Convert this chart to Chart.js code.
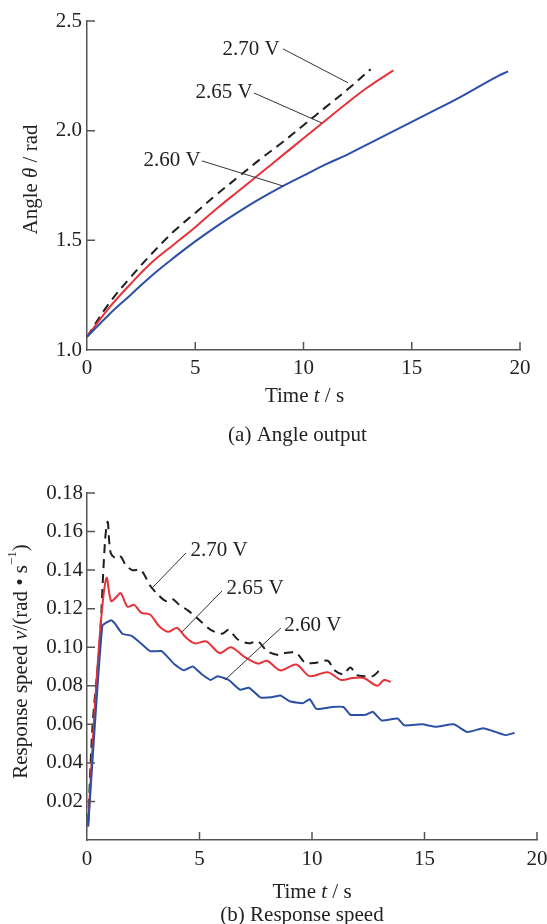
<!DOCTYPE html>
<html>
<head>
<meta charset="utf-8">
<script src="https://cdn.jsdelivr.net/npm/chart.js@4.4.1/dist/chart.umd.min.js"></script>
<style>
  html, body { margin: 0; padding: 0; background: #ffffff; overflow: hidden; }
  #wrapA { position: absolute; left: 0; top: 0; }
  #wrapB { position: absolute; left: 0; top: 455px; }
</style>
</head>
<body>
<div id="wrapA"><canvas id="chartA" width="547" height="455"></canvas></div>
<div id="wrapB"><canvas id="chartB" width="547" height="469"></canvas></div>
<script>
// ---------- (a) Angle output data ----------
const angleTicksX = [0, 5, 10, 15, 20];
const angleTicksY = [1.0, 1.5, 2.0, 2.5];

const angleT260 = [0, 1, 2, 3, 4, 5, 6, 7, 8, 9, 10, 11, 12, 13, 14, 15, 16, 17, 18, 19, 19.45];
const angle260  = [1.06, 1.16, 1.25, 1.34, 1.42, 1.495, 1.565, 1.63, 1.69, 1.745, 1.795, 1.845, 1.89, 1.94, 1.99, 2.04, 2.09, 2.14, 2.195, 2.25, 2.27];

const angleT265 = [0, 1, 2, 3, 4, 5, 6, 7, 8, 9, 10, 11, 12, 13, 14.15];
const angle265  = [1.06, 1.19, 1.30, 1.40, 1.48, 1.56, 1.645, 1.725, 1.805, 1.885, 1.965, 2.045, 2.125, 2.20, 2.275];

const angleT270 = [0, 1, 2, 3, 4, 5, 6, 7, 8, 9, 10, 11, 12, 13.1];
const angle270  = [1.06, 1.21, 1.33, 1.44, 1.54, 1.625, 1.71, 1.79, 1.87, 1.945, 2.025, 2.105, 2.185, 2.28];

// ---------- (b) Response speed data ----------
const speedTicksX = [0, 5, 10, 15, 20];
const speedTicksY = [0.02, 0.04, 0.06, 0.08, 0.10, 0.12, 0.14, 0.16, 0.18];

const speedT270 = [0.05, 0.25, 0.55, 0.8, 0.92, 1.05, 1.3, 1.5, 1.7, 2.0, 2.4, 2.8, 3.1, 3.5, 3.8, 4.1, 4.5, 5.0, 5.5, 6.0, 6.3, 6.7, 7.2, 7.6, 8.0, 8.5, 8.8, 9.3, 9.7, 10.2, 10.7, 11.0, 11.4, 11.7, 12.0, 12.3, 12.7, 13.0];
const speed270  = [0.009, 0.06, 0.10, 0.155, 0.165, 0.149, 0.146, 0.147, 0.143, 0.140, 0.140, 0.132, 0.128, 0.124, 0.125, 0.122, 0.119, 0.114, 0.109, 0.107, 0.109, 0.104, 0.102, 0.103, 0.098, 0.096, 0.097, 0.097, 0.092, 0.092, 0.093, 0.088, 0.086, 0.0895, 0.0855, 0.085, 0.085, 0.088];

const speedT265 = [0.05, 0.33, 0.64, 0.87, 1.07, 1.3, 1.5, 1.8, 2.1, 2.4, 2.8, 3.2, 3.6, 4.0, 4.4, 4.8, 5.3, 5.9, 6.4, 7.0, 7.6, 8.0, 8.6, 9.3, 9.9, 10.7, 11.3, 11.8, 12.3, 12.9, 13.2, 13.5];
const speed265  = [0.007, 0.066, 0.116, 0.136, 0.124, 0.126, 0.128, 0.121, 0.122, 0.118, 0.117, 0.111, 0.108, 0.110, 0.105, 0.102, 0.103, 0.097, 0.100, 0.095, 0.0915, 0.093, 0.088, 0.091, 0.085, 0.087, 0.083, 0.084, 0.084, 0.080, 0.083, 0.082];

const speedT260 = [0.05, 0.68, 1.07, 1.26, 1.57, 1.96, 2.3, 2.8, 3.3, 3.5, 3.9, 4.3, 4.7, 5.1, 5.5, 5.8, 6.3, 6.8, 7.2, 7.7, 8.2, 8.6, 9.0, 9.6, 9.9, 10.2, 10.9, 11.4, 11.7, 12.4, 12.7, 13.1, 13.8, 14.1, 14.9, 15.5, 16.3, 16.9, 17.6, 18.0, 18.6, 19.0];
const speed260  = [0.007, 0.111, 0.114, 0.112, 0.107, 0.106, 0.103, 0.098, 0.098, 0.096, 0.091, 0.088, 0.090, 0.086, 0.083, 0.085, 0.083, 0.078, 0.079, 0.074, 0.074, 0.075, 0.072, 0.071, 0.073, 0.068, 0.069, 0.069, 0.065, 0.065, 0.0665, 0.062, 0.063, 0.0595, 0.060, 0.0587, 0.060, 0.056, 0.058, 0.0567, 0.0544, 0.0556];

// Leader-line annotations, in data units
const angleNotes = [
  { text: '2.70 V', tx: 7.58, ty: 2.368, x1: 9.05, y1: 2.373, x2: 12.06, y2: 2.218 },
  { text: '2.65 V', tx: 6.33, ty: 2.176, x1: 7.71, y1: 2.172, x2: 10.85, y2: 2.035 },
  { text: '2.60 V', tx: 3.93, ty: 1.866, x1: 5.31, y1: 1.862, x2: 9.05, y2: 1.748 }
];
const speedNotes = [
  { text: '2.70 V', tx: 5.87, ty: 0.1504, x1: 4.40, y1: 0.1489, x2: 2.89, y2: 0.1307 },
  { text: '2.65 V', tx: 7.47, ty: 0.1307, x1: 6.00, y1: 0.1292, x2: 4.22, y2: 0.1079 },
  { text: '2.60 V', tx: 10.04, ty: 0.1115, x1: 8.62, y1: 0.1100, x2: 6.13, y2: 0.0830 }
];

const FONT = '"Liberation Serif", "Times New Roman", serif';
const FS = 21;
const TXT = '#222222';
const AXIS = '#555555';
const BLACK = '#1e1e1e';
const RED = '#e8323a';
const BLUE = '#2c50a6';

function pts(xs, ys) { return xs.map((x, i) => ({ x: x, y: ys[i] })); }

function drawRich(ctx, parts, x, y, size) {
  let total = 0;
  const items = parts.map(p => {
    const fs = p.sup ? Math.round(size * 0.62) : size;
    const f = (p.italic ? 'italic ' : '') + fs + 'px ' + FONT;
    ctx.font = f;
    const w = ctx.measureText(p.text).width;
    total += w;
    return { p, f, w, dy: p.sup ? -size * 0.38 : 0 };
  });
  let cx = x - total / 2;
  ctx.textAlign = 'left';
  ctx.textBaseline = 'middle';
  items.forEach(it => {
    ctx.font = it.f;
    ctx.fillText(it.p.text, cx, y + it.dy);
    cx += it.w;
  });
}

const decorPlugin = {
  id: 'decor',
  afterDraw(chart, args, opts) {
    const ctx = chart.ctx;
    const ca = chart.chartArea;
    const xs = chart.scales.x, ys = chart.scales.y;
    ctx.save();
    // inward tick marks
    ctx.strokeStyle = AXIS;
    ctx.lineWidth = 1.5;
    ctx.beginPath();
    xs.ticks.forEach(t => {
      if (t.value === xs.min) return;
      const px = xs.getPixelForValue(t.value);
      ctx.moveTo(px, ca.bottom);
      ctx.lineTo(px, ca.bottom - 8);
    });
    ys.ticks.forEach(t => {
      if (t.value === ys.min) return;
      const py = ys.getPixelForValue(t.value);
      ctx.moveTo(ca.left, py);
      ctx.lineTo(ca.left + 8, py);
    });
    ctx.stroke();

    // annotations
    ctx.fillStyle = TXT;
    ctx.strokeStyle = '#333333';
    ctx.lineWidth = 1;
    (opts.notes || []).forEach(n => {
      ctx.beginPath();
      ctx.moveTo(xs.getPixelForValue(n.x1), ys.getPixelForValue(n.y1));
      ctx.lineTo(xs.getPixelForValue(n.x2), ys.getPixelForValue(n.y2));
      ctx.stroke();
      drawRich(ctx, [{ text: n.text }], xs.getPixelForValue(n.tx), ys.getPixelForValue(n.ty), FS);
    });

    // axis titles & caption
    const midX = (ca.left + ca.right) / 2;
    drawRich(ctx, opts.xTitle, midX + opts.xTitleDx, ca.bottom + opts.xTitleDy, FS);
    drawRich(ctx, [{ text: opts.caption }], midX + opts.captionDx, ca.bottom + opts.captionDy, FS);
    ctx.save();
    ctx.translate(opts.yTitleX, (ca.top + ca.bottom) / 2 + opts.yTitleDy);
    ctx.rotate(-Math.PI / 2);
    drawRich(ctx, opts.yTitle, 0, 0, FS);
    ctx.restore();
    ctx.restore();
  }
};

function baseScales(xTicks, yTicks, yDigits, yWidth, xPad) {
  return {
    x: {
      type: 'linear',
      min: xTicks[0], max: xTicks[xTicks.length - 1],
      afterBuildTicks: s => { s.ticks = xTicks.map(v => ({ value: v })); },
      grid: { display: false, drawTicks: false },
      border: { display: true, color: AXIS, width: 1.5 },
      ticks: { color: TXT, font: { family: FONT, size: FS }, padding: xPad, maxRotation: 0,
               callback: v => String(v) },
      afterFit: s => { s.height = 30; s.paddingRight = 0; s.paddingLeft = 0; }
    },
    y: {
      type: 'linear',
      min: yDigits === 2 ? 0 : yTicks[0], max: yTicks[yTicks.length - 1],
      afterBuildTicks: s => {
        const arr = yTicks.map(v => ({ value: v }));
        if (yDigits === 2) arr.unshift({ value: 0 });
        s.ticks = arr;
      },
      grid: { display: false, drawTicks: false },
      border: { display: true, color: AXIS, width: 1.5 },
      ticks: { color: TXT, font: { family: FONT, size: FS }, padding: yDigits === 2 ? 4 : 5,
               callback: v => (yDigits === 2 && Math.abs(v) < 1e-9) ? '' : Number(v).toFixed(yDigits) },
      afterFit: s => { s.width = yWidth; s.paddingTop = 0; s.paddingBottom = 0; }
    }
  };
}

function line(label, xs, ys, color, dash, tension) {
  return {
    label, data: pts(xs, ys), showLine: true, borderColor: color, backgroundColor: color,
    borderWidth: 2, borderDash: dash, pointRadius: 0, tension: tension, fill: false
  };
}

new Chart(document.getElementById('chartA'), {
  type: 'scatter',
  data: {
    datasets: [
      line('2.60 V', angleT260, angle260, BLUE, [], 0.4),
      line('2.65 V', angleT265, angle265, RED, [], 0.4),
      line('2.70 V', angleT270, angle270, BLACK, [9, 6], 0.4)
    ]
  },
  options: {
    responsive: false, animation: false,
    layout: { autoPadding: false, padding: { left: 0, top: 21, right: 27, bottom: 75 } },
    scales: baseScales(angleTicksX, angleTicksY, 1, 87, 6),
    plugins: {
      legend: { display: false }, tooltip: { enabled: false },
      decor: {
        notes: angleNotes,
        xTitle: [{ text: 'Time ' }, { text: 't', italic: true }, { text: ' / s' }],
        xTitleDx: 1, xTitleDy: 46,
        caption: '(a) Angle output', captionDx: -6, captionDy: 85,
        yTitle: [{ text: 'Angle ' }, { text: 'θ', italic: true }, { text: ' / rad' }],
        yTitleX: 31, yTitleDy: -6
      }
    }
  },
  plugins: [decorPlugin]
});

new Chart(document.getElementById('chartB'), {
  type: 'scatter',
  data: {
    datasets: [
      line('2.60 V', speedT260, speed260, BLUE, [], 0.15),
      line('2.65 V', speedT265, speed265, RED, [], 0.3),
      line('2.70 V', speedT270, speed270, BLACK, [9, 6], 0.3)
    ]
  },
  options: {
    responsive: false, animation: false,
    layout: { autoPadding: false, padding: { left: 0, top: 38, right: 10, bottom: 54 } },
    scales: baseScales(speedTicksX, speedTicksY, 2, 87, 7),
    plugins: {
      legend: { display: false }, tooltip: { enabled: false },
      decor: {
        notes: speedNotes,
        xTitle: [{ text: 'Time ' }, { text: 't', italic: true }, { text: ' / s' }],
        xTitleDx: 0, xTitleDy: 52,
        caption: '(b) Response speed', captionDx: -10, captionDy: 75,
        yTitle: [{ text: 'Response speed ' }, { text: 'v', italic: true }, { text: '/(rad • s' }, { text: '−1', sup: true }, { text: ')' }],
        yTitleX: 21, yTitleDy: -5
      }
    }
  },
  plugins: [decorPlugin]
});
</script>
</body>
</html>
